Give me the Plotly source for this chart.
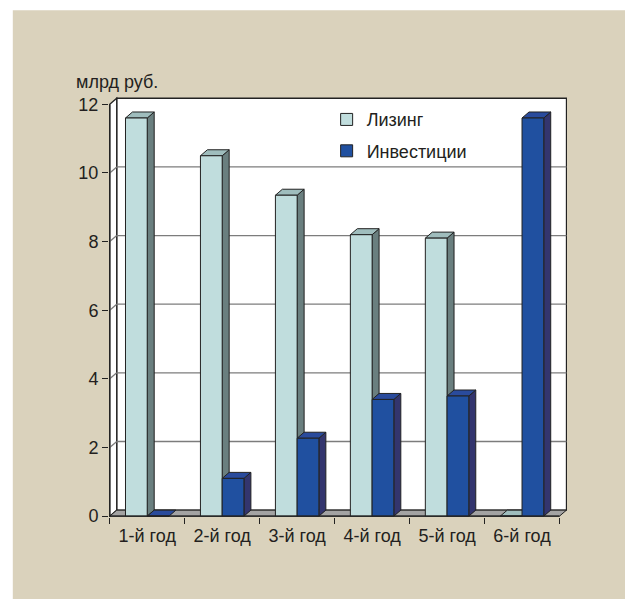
import plotly.graph_objects as go

# ---- data ----
categories = ["1-й год", "2-й год", "3-й год", "4-й год", "5-й год", "6-й год"]
series_names = ["Лизинг", "Инвестиции"]
leasing = [11.6, 10.5, 9.35, 8.2, 8.1, 0.0]
investments = [0.0, 1.1, 2.27, 3.4, 3.5, 11.6]
y_ticks = [0, 2, 4, 6, 8, 10, 12]
y_unit = "млрд руб."

# ---- style ----
W_FIG, H_FIG = 625, 599
FONT = "Liberation Sans, Arial, sans-serif"
TXT = "#231f20"
EDGE = "#222222"
BEIGE = "#dad2bc"
front_colors = ["#c0dddd", "#2050a0"]
side_colors = ["#6a7f7f", "#33356e"]
top_colors = ["#9fbdbd", "#2a4b9c"]
offsets = [-0.29, 0.0]
BW = 0.29
DX, DY = 0.093, 0.175  # 3D depth in data units

XR = [-0.51, 5.6]
YR = [-0.025, 12.27]
PX_X = 75.0
PX_Y = 34.33
L = 110 + (XR[0] + 0.5) * PX_X
R = W_FIG - (110 + (XR[1] + 0.5) * PX_X)
B = H_FIG - (516 - YR[0] * PX_Y)
T = 516 - YR[1] * PX_Y
PW = W_FIG - L - R
PH = H_FIG - T - B


def pxx(p):
    return (p - L) / PW


def pxy(p):
    return (H_FIG - B - p) / PH


xs = list(range(len(categories)))
x_left = -0.5
x_right = len(categories) - 0.5
y_top = y_ticks[-1]

shapes = []
# beige panel
shapes.append(dict(type="rect", xref="paper", yref="paper", layer="below",
                   x0=pxx(13), x1=pxx(W_FIG + 5), y0=pxy(H_FIG + 5), y1=pxy(10),
                   fillcolor=BEIGE, line=dict(width=0)))
# back wall
shapes.append(dict(type="rect", xref="x", yref="y", layer="below",
                   x0=x_left + DX, x1=x_right + DX, y0=DY, y1=y_top + DY,
                   fillcolor="white", line=dict(color=EDGE, width=1.3)))
# left wall
shapes.append(dict(type="path", xref="x", yref="y", layer="below",
                   path=f"M{x_left},0 L{x_left+DX},{DY} L{x_left+DX},{y_top+DY} L{x_left},{y_top} Z",
                   fillcolor="white", line=dict(color=EDGE, width=1.3)))
# gridlines
for v in y_ticks[1:-1]:
    shapes.append(dict(type="line", xref="x", yref="y", layer="below",
                       x0=x_left + DX, x1=x_right + DX, y0=v + DY, y1=v + DY,
                       line=dict(color="#7c7c7c", width=1.3)))
    shapes.append(dict(type="line", xref="x", yref="y", layer="below",
                       x0=x_left, x1=x_left + DX, y0=v, y1=v + DY,
                       line=dict(color="#7c7c7c", width=1.3)))
# floor
shapes.append(dict(type="path", xref="x", yref="y", layer="below",
                   path=f"M{x_left},0 L{x_left+DX},{DY} L{x_right+DX},{DY} L{x_right},0 Z",
                   fillcolor="#a3a3a3", line=dict(color=EDGE, width=1)))
# bar side and top faces
for s, vals in enumerate([leasing, investments]):
    for i, v in zip(xs, vals):
        x0 = i + offsets[s]
        x1 = x0 + BW
        if v > 0:
            shapes.append(dict(type="path", xref="x", yref="y", layer="below",
                               path=f"M{x1},0 L{x1+DX},{DY} L{x1+DX},{v+DY} L{x1},{v} Z",
                               fillcolor=side_colors[s], line=dict(color=EDGE, width=1)))
        shapes.append(dict(type="path", xref="x", yref="y", layer="below",
                           path=f"M{x0},{v} L{x0+DX},{v+DY} L{x1+DX},{v+DY} L{x1},{v} Z",
                           fillcolor=top_colors[s], line=dict(color=EDGE, width=1)))
# front axes lines
shapes.append(dict(type="line", xref="x", yref="y", layer="above",
                   x0=x_left, x1=x_left, y0=0, y1=y_top, line=dict(color=EDGE, width=1.3)))
shapes.append(dict(type="line", xref="x", yref="y", layer="above",
                   x0=x_left, x1=x_right, y0=0, y1=0, line=dict(color=EDGE, width=1.3)))

fig = go.Figure()
for s, vals in enumerate([leasing, investments]):
    fig.add_trace(go.Bar(
        x=xs, y=vals, name=series_names[s], width=BW, offset=offsets[s],
        marker=dict(color=front_colors[s], line=dict(color=EDGE, width=1)),
        legendgroup=series_names[s], hoverinfo="skip"))

fig.add_annotation(text=y_unit, xref="paper", yref="paper", x=pxx(74), y=pxy(82),
                   xanchor="left", yanchor="middle", showarrow=False,
                   font=dict(family=FONT, size=18, color=TXT))

fig.update_layout(
    width=W_FIG, height=H_FIG,
    margin=dict(l=L, r=R, t=T, b=B, pad=0),
    paper_bgcolor="white", plot_bgcolor="rgba(0,0,0,0)",
    barmode="overlay",
    font=dict(family=FONT, size=18, color=TXT),
    shapes=shapes,
    showlegend=True,
    legend=dict(x=pxx(327), y=pxy(101), xanchor="left", yanchor="top",
                bgcolor="rgba(0,0,0,0)", borderwidth=0, tracegroupgap=5,
                font=dict(family=FONT, size=18, color=TXT)),
    xaxis=dict(range=XR, tickmode="array", tickvals=xs, ticktext=categories,
               showgrid=False, zeroline=False, showline=False, ticks="",
               ticklabelstandoff=6,
               minor=dict(tickmode="array", tickvals=[i - 0.5 for i in xs] + [x_right],
                          ticks="outside", ticklen=6, tickcolor=EDGE, tickwidth=1.2,
                          showgrid=False)),
    yaxis=dict(range=YR, tickmode="array", tickvals=y_ticks,
               showgrid=False, zeroline=False, showline=False,
               ticks="outside", ticklen=6, tickcolor=EDGE, tickwidth=1.2),
)

fig.write_html("out.html")
